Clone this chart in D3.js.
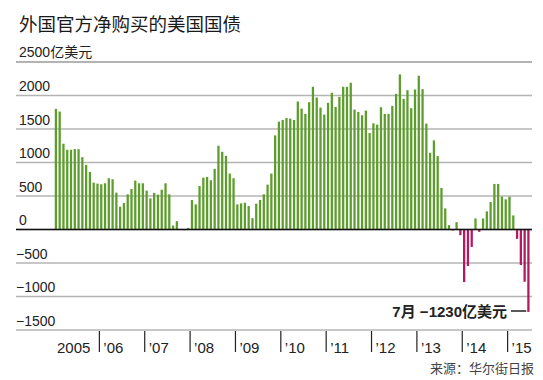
<!DOCTYPE html>
<html>
<head>
<meta charset="utf-8">
<script src="https://cdn.jsdelivr.net/npm/d3@7"></script>
<style>
  body { margin: 0; background: #fff; }
  svg { display: block; }
</style>
</head>
<body>
<div id="chart"></div>
<script>
// 外国官方净购买的美国国债 (亿美元), monthly, 2005 -> 2015
const title = "外国官方净购买的美国国债";
const unitLabel = "2500亿美元";
const yearLabels = ["2005", "’06", "’07", "’08", "’09", "’10", "’11", "’12", "’13", "’14", "’15"];
const yTicks = [2000, 1500, 1000, 500, 0, -500, -1000, -1500];
const values = [
    1800, 1760, 1280, 1190, 1190, 1200, 1200, 1080, 965, 860, 700, 685,     // 2005
    675, 690, 765, 750, 550, 340, 395, 525, 605, 730, 690, 690,             // 2006
    580, 465, 545, 520, 595, 690, 525, 60, 125, 0, -10, 25,                 // 2007
    440, 375, 650, 775, 785, 735, 905, 1250, 1160, 1100, 835, 765,          // 2008
    375, 390, 400, 350, 170, 385, 440, 525, 670, 835, 1405, 1610,           // 2009
    1635, 1665, 1655, 1635, 1910, 1805, 1725, 1900, 2130, 1970, 1820, 1715, // 2010
    1890, 2040, 1830, 1980, 2130, 2130, 2190, 1790, 1755, 1705, 1775, 1440, // 2011
    1585, 1565, 1825, 1725, 1725, 1845, 2025, 2315, 1950, 2080, 1810, 2090, // 2012
    2295, 2095, 1580, 1145, 1330, 1095, 620, 315, 65, -15, 110, -85,        // 2013
    -785, -545, -260, 165, -35, 165, 270, 410, 680, 680, 490, 450,          // 2014
    490, 210, -140, -530, -780, -1230                                       // 2015
];
const annotation = "7月 −1230亿美元";
const source = "来源：华尔街日报";

const width = 543, height = 380;
const margin = { top: 62, bottom: 330, left: 16, right: 532 };
const cjk = "'Noto Sans CJK SC', 'Liberation Sans', sans-serif";
// latin digits first, chinese falls back to Noto CJK
const mixed = "'Liberation Sans', 'Noto Sans CJK SC', sans-serif";

const months = values.map((v, i) => i);

const svg = d3.select("#chart")
    .append("svg")
    .attr("width", width)
    .attr("height", height);

const x = d3.scaleBand()
    .domain(months)
    .range([54, 530.3])
    .paddingInner(0.4)
    .paddingOuter(0.2);

const y = d3.scaleLinear()
    .domain([-1500, 2500])
    .range([margin.bottom, margin.top]);

// title
svg.append("text")
    .attr("x", 19)
    .attr("y", 31)
    .attr("font-family", cjk)
    .attr("font-size", "18.5px")
    .attr("fill", "#1a1a1a")
    .text(title);

// grid lines
svg.append("g")
    .selectAll("line")
    .data([2500].concat(yTicks))
    .join("line")
    .attr("x1", margin.left)
    .attr("x2", margin.right)
    .attr("y1", d => y(d))
    .attr("y2", d => y(d))
    .attr("stroke", d => d === 2500 ? "#9a9a9a" : "#b4b4b4")
    .attr("stroke-width", 1.3);

// y labels, sitting on top of their grid line
svg.append("g")
    .selectAll("text")
    .data(yTicks)
    .join("text")
    .attr("x", d => d < 0 ? 16 : 19)
    .attr("y", d => y(d) - 4.5)
    .attr("font-family", mixed)
    .attr("font-size", "14px")
    .attr("fill", "#222")
    .text(d => d < 0 ? "−" + Math.abs(d) : d);

svg.append("text")
    .attr("x", 19)
    .attr("y", y(2500) - 5)
    .attr("font-family", mixed)
    .attr("font-size", "14px")
    .attr("fill", "#222")
    .text(unitLabel);

// bars
svg.append("g")
    .selectAll("rect")
    .data(values)
    .join("rect")
    .attr("x", (d, i) => x(i))
    .attr("width", x.bandwidth())
    .attr("y", d => y(Math.max(0, d)))
    .attr("height", d => Math.abs(y(d) - y(0)))
    .attr("fill", d => d >= 0 ? "#5c9d2c" : "#b01a60");

// zero line
svg.append("line")
    .attr("x1", margin.left)
    .attr("x2", margin.right)
    .attr("y1", y(0))
    .attr("y2", y(0))
    .attr("stroke", "#111")
    .attr("stroke-width", 1.6);

// year ticks and labels
const step = x.step();
const yearStart = k => x(k * 12) - step * x.paddingInner() / 2;

svg.append("g")
    .selectAll("line")
    .data(yearLabels.slice(1))
    .join("line")
    .attr("x1", (d, i) => yearStart(i + 1))
    .attr("x2", (d, i) => yearStart(i + 1))
    .attr("y1", margin.bottom + 1)
    .attr("y2", margin.bottom + 22)
    .attr("stroke", "#222")
    .attr("stroke-width", 1.2);

svg.append("g")
    .selectAll("text")
    .data(yearLabels)
    .join("text")
    .attr("x", (d, i) => yearStart(i) + (i === 0 ? 3 : 4))
    .attr("y", 352.5)
    .attr("font-family", mixed)
    .attr("font-size", "15px")
    .attr("fill", "#222")
    .text(d => d);

// annotation for last value
const last = values.length - 1;
svg.append("text")
    .attr("x", 507)
    .attr("y", 317)
    .attr("text-anchor", "end")
    .attr("font-family", mixed)
    .attr("font-size", "15px")
    .attr("font-weight", "bold")
    .attr("fill", "#222")
    .text(annotation);

svg.append("line")
    .attr("x1", 511)
    .attr("x2", x(last) - 1)
    .attr("y1", 311)
    .attr("y2", 311)
    .attr("stroke", "#222")
    .attr("stroke-width", 1.5);

// source
svg.append("text")
    .attr("x", 534)
    .attr("y", 373)
    .attr("text-anchor", "end")
    .attr("font-family", cjk)
    .attr("font-size", "13px")
    .attr("fill", "#444")
    .text(source);
</script>
</body>
</html>
